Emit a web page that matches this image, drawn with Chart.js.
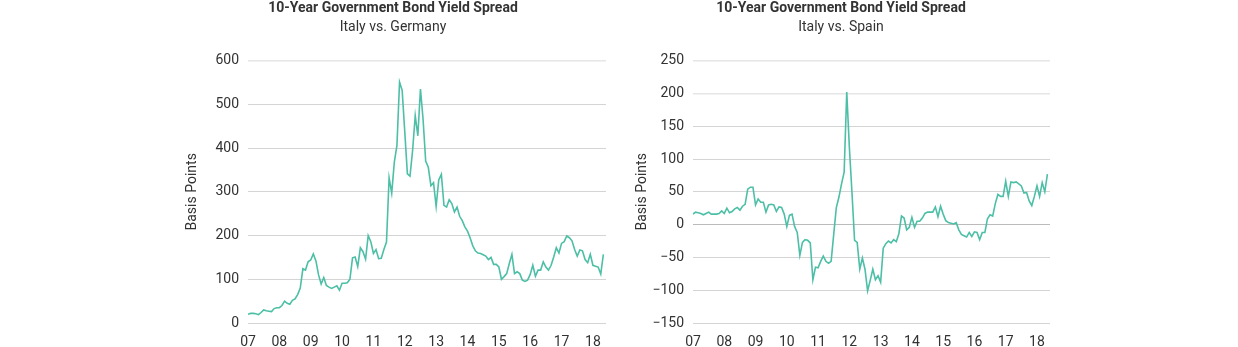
<!DOCTYPE html>
<html>
<head>
<meta charset="utf-8">
<script src="https://cdn.jsdelivr.net/npm/chart.js@4.4.1/dist/chart.umd.min.js"></script>
<style>
  body { margin: 0; background: #fff; }
  canvas { position: absolute; top: 0; }
  #chartA { left: 180px; }
  #chartB { left: 630px; }
</style>
</head>
<body>
<canvas id="chartA" width="432" height="347"></canvas>
<canvas id="chartB" width="426" height="347"></canvas>
<script>
// monthly spreads, Jan 2007 - May 2018 (basis points)
const yearLabels = ["07", "08", "09", "10", "11", "12", "13", "14", "15", "16", "17", "18"];

const italyGermany = [
  20, 22, 22, 21, 19, 24, 30, 28, 27, 26, 33, 35,
  35, 40, 50, 45, 43, 52, 55, 65, 80, 124, 121, 140,
  144, 158, 142, 110, 89, 104, 86, 82, 79, 82, 85, 75,
  91, 91, 92, 100, 149, 151, 129, 172, 163, 146, 200, 186,
  159, 168, 147, 148, 168, 185, 332, 297, 368, 406, 551, 532,
  437, 341, 336, 395, 474, 428, 535, 466, 370, 356, 314, 321,
  267, 327, 340, 269, 265, 282, 273, 254, 265, 244, 234, 220,
  210, 195, 177, 165, 160, 159, 156, 153, 145, 150, 134, 134,
  128, 100, 106, 113, 136, 157, 113, 117, 113, 98, 95, 98,
  111, 132, 107, 121, 121, 140, 128, 121, 132, 151, 172, 160,
  182, 186, 199, 195, 188, 168, 153, 167, 165, 145, 138, 157,
  132, 130, 128, 112, 157
];

const italySpain = [
  16, 19, 18, 17, 15, 17, 19, 16, 16, 16, 17, 21,
  17, 25, 18, 20, 24, 26, 22, 28, 31, 54, 57, 57,
  30, 39, 34, 34, 19, 30, 31, 30, 20, 27, 26, 16,
  -3, 14, 16, -3, -12, -47, -27, -23, -24, -28, -84, -65,
  -66, -56, -48, -56, -59, -56, -15, 26, 42, 62, 80, 202,
  118, 49, -24, -27, -68, -51, -68, -101, -85, -68, -84, -78,
  -88, -36, -29, -25, -28, -23, -26, -14, 13, 10, -8, -4,
  11, -4, 5, 5, 10, 17, 19, 19, 19, 27, 12, 28,
  16, 6, 3, 2, 1, 3, -8, -15, -17, -19, -12, -18,
  -11, -12, -23, -12, -12, 9, 15, 13, 32, 46, 43, 43,
  66, 43, 65, 64, 65, 62, 59, 48, 49, 36, 29, 43,
  59, 43, 64, 50, 77
];

const germanyTicks = [0, 100, 200, 300, 400, 500, 600];
const spainTicks = [-150, -100, -50, 0, 50, 100, 150, 200, 250];

const lineColor = "#4cbfa6";
const textColor = "#333333";
const fontFamily = "Roboto, 'Noto Sans', sans-serif";

function makeChart(id, subtitle, values, ticks, axisWidth, padRight, lightLines) {
  const points = values.map((v, i) => ({ x: i, y: v }));
  return new Chart(document.getElementById(id), {
    type: "line",
    data: {
      datasets: [
        {
          data: points,
          borderColor: lineColor,
          borderWidth: 1.6,
          pointRadius: 0,
          tension: 0,
        },
      ],
    },
    options: {
      responsive: false,
      animation: false,
      layout: { padding: { left: 0, right: padRight, top: 0, bottom: 0 } },
      plugins: {
        legend: { display: false },
        tooltip: { enabled: false },
        title: {
          display: true,
          text: "10-Year Government Bond Yield Spread",
          color: textColor,
          font: { family: fontFamily, size: 14, weight: "bold" },
          padding: { top: 0, bottom: 2 },
        },
        subtitle: {
          display: true,
          text: subtitle,
          color: textColor,
          font: { family: fontFamily, size: 14 },
          padding: { top: 0, bottom: 25 },
        },
      },
      scales: {
        x: {
          type: "linear",
          min: 0,
          max: 137,
          grid: { display: false, drawTicks: false },
          border: { display: false },
          afterBuildTicks: (scale) => {
            scale.ticks = yearLabels.map((_, i) => ({ value: i * 12 }));
          },
          afterFit: (scale) => {
            scale.height = 24;
          },
          ticks: {
            color: textColor,
            padding: 11,
            maxRotation: 0,
            font: { family: fontFamily, size: 14 },
            callback: (v) => yearLabels[v / 12],
          },
        },
        y: {
          min: ticks[0],
          max: ticks[ticks.length - 1],
          afterBuildTicks: (scale) => {
            scale.ticks = ticks.map((t) => ({ value: t }));
          },
          afterFit: (scale) => {
            scale.width = axisWidth;
          },
          grid: {
            drawTicks: false,
            color: (c) => {
              const v = c.tick ? c.tick.value : null;
              if (lightLines.includes(v)) return "#e6e6e6";
              if (v === 0 && ticks[0] < 0) return "#bbbbbb";
              return "#d4d4d4";
            },
            lineWidth: (c) => (c.tick && lightLines.includes(c.tick.value) ? 1.5 : 1),
          },
          border: { display: false },
          title: {
            display: true,
            text: "Basis Points",
            color: textColor,
            font: { family: fontFamily, size: 14 },
          },
          ticks: {
            color: textColor,
            padding: 9,
            font: { family: fontFamily, size: 14 },
            callback: (v) => (v < 0 ? "\u2212" + Math.abs(v) : v),
          },
        },
      },
    },
  });
}

makeChart("chartA", "Italy vs. Germany", italyGermany, germanyTicks, 68, 6, [600]);
makeChart("chartB", "Italy vs. Spain", italySpain, spainTicks, 63, 4, [250, 200]);
</script>
</body>
</html>
